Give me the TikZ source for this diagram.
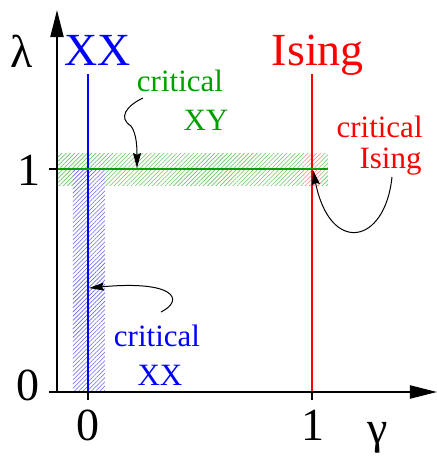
\documentclass[tikz,border=0pt]{standalone}
\usepackage{fontspec}
\setmainfont{Liberation Serif}
\newfontfamily\tms{Liberation Serif}
\usetikzlibrary{arrows.meta,patterns.meta}
\definecolor{xygreen}{RGB}{0,160,0}
\tikzset{
  axis/.style={line width=1pt,-{Triangle[length=13.5pt,width=6.5pt]}},
  tick/.style={line width=1pt},
  big/.style={inner sep=0pt,anchor=base,font=\tms\fontsize{23}{27}\selectfont},
  small/.style={inner sep=0pt,anchor=base,font=\tms\fontsize{15.5}{18}\selectfont},
  pointer/.style={line width=0.5pt,-{Stealth[length=7.5pt,width=4pt,inset=1pt]}},
  hatch/.style={pattern={Lines[angle=45,distance=1.5pt,line width=0.3pt]}},
}
\begin{document}
\begin{tikzpicture}[x=0.5pt,y=-0.5pt]
\useasboundingbox (0,0) rectangle (437,457);
% hatched bands
\path[hatch,pattern color=xygreen!60] (57,153) rectangle (328,185);
\path[fill=white] (73,169) rectangle (105,392);
\path[hatch,pattern color=blue!60] (73,169) rectangle (105,392);
\path[fill=white] (304,153) rectangle (321,185);
\path[hatch,pattern color=red!50] (304,153) rectangle (321,185);
% lines
\draw[blue,line width=0.8pt] (88,74) -- (88,392);
\draw[red,line width=0.8pt] (312,74) -- (312,392);
\draw[xygreen,line width=0.8pt] (57,169) -- (328,169);
% axes
\coordinate (o) at (57,392);
\coordinate (ytop) at (57,10);
\coordinate (xl) at (49,392);
\coordinate (xr) at (437,392);
\draw[axis] (o) -- (ytop);
\draw[axis] (xl) -- (xr);
\draw[tick] (49,169) -- (57,169);
\draw[tick] (88,392) -- (88,400);
\draw[tick] (312,392) -- (312,400);
% axis labels
\node[big] (lam) at (22,67) {λ};
\node[big] (gam) at (378,443) {γ};
\node[big] (y0) at (28,400) {0};
\node[big] (y1) at (29,185) {1};
\node[big] (x0) at (88,440) {0};
\node[big] (x1) at (313,440) {1};
% titles
\node[big,blue] (XX) at (98,65) {XX};
\node[big,red] (Ising) at (318,65) {Ising};
% small labels
\node[small,xygreen] (cxy1) at (180,91) {critical};
\node[small,xygreen] (cxy2) at (206,130) {XY};
\node[small,red,anchor=base east] (cis1) at (423,137) {critical};
\node[small,red,anchor=base east] (cis2) at (422,168) {Ising};
\node[small,blue] (cxx1) at (157,346) {critical};
\node[small,blue] (cxx2) at (160,385) {XX};
% pointers
\coordinate (pxy) at (143,98);
\coordinate (txy) at (137,168);
\draw[pointer] (pxy) .. controls (126,106) and (118,118) .. (131,126)
  .. controls (137,134) and (137,150) .. (txy);
\coordinate (pis) at (392,177);
\coordinate (tis) at (313,170);
\draw[pointer] (pis) .. controls (385,245) and (330,255) .. (tis);
\coordinate (pxx) at (161,312);
\coordinate (txx) at (89,288);
\draw[pointer] (pxx) .. controls (185,300) and (175,280) .. (txx);
\end{tikzpicture}
\end{document}
